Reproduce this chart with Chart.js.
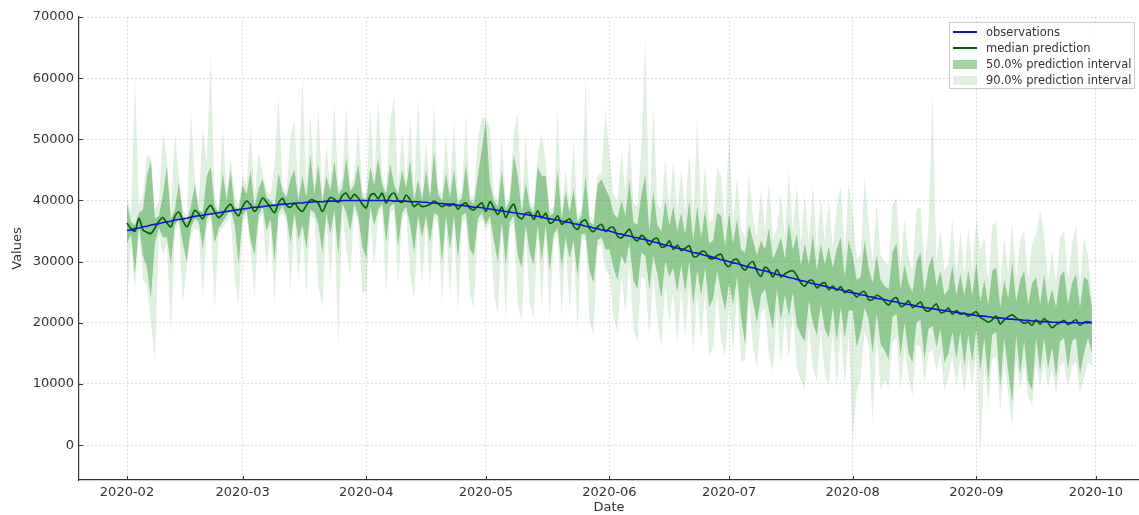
<!DOCTYPE html>
<html>
<head>
<meta charset="utf-8">
<script src="https://cdn.jsdelivr.net/npm/chart.js@4.4.1/dist/chart.umd.min.js"></script>
<style>
  body { margin: 0; background: #fff; }
  #wrap { position: relative; width: 1139px; height: 515px; }
  #legend {
    position: absolute; left: 949px; top: 22px; width: 186px; height: 67px;
    box-sizing: border-box; border: 1px solid #ccc; background: rgba(255,255,255,0.85);
    padding: 1px 3px; font: 11.5px "DejaVu Sans", sans-serif; color: #333;
  }
  .item { display: flex; align-items: center; height: 16px; white-space: nowrap; }
  .sw { width: 24px; margin-right: 9px; flex: none; }
</style>
</head>
<body>
<div id="wrap">
  <canvas id="chart" width="1139" height="515"></canvas>
  <div id="legend"></div>
</div>
<script>
// x = days since 2020-02-01 (daily points up to 2020-09-30)
const monthTickDays = [0, 29, 60, 90, 121, 151, 182, 213, 243];
const monthTickLabels = ["2020-02", "2020-03", "2020-04", "2020-05", "2020-06", "2020-07", "2020-08", "2020-09", "2020-10"];
const yTickValues = [0, 10000, 20000, 30000, 40000, 50000, 60000, 70000];

const seriesNames = ["observations", "median prediction", "50.0% prediction interval", "90.0% prediction interval"];

const observations = [
  35100,35200,35400,35500,35700,35800,36000,36100,36200,36400,
  36500,36600,36800,36900,37000,37100,37300,37400,37500,37600,
  37700,37800,37900,38000,38100,38200,38300,38400,38500,38600,
  38700,38800,38900,38900,39000,39100,39200,39200,39300,39400,
  39400,39500,39500,39600,39600,39700,39700,39800,39800,39800,
  39900,39900,39900,39900,40000,40000,40000,40000,40000,40000,
  40000,40000,40000,40000,40000,40000,40000,39900,39900,39900,
  39900,39800,39800,39800,39700,39700,39600,39600,39500,39500,
  39400,39400,39300,39200,39200,39100,39000,38900,38900,38800,
  38700,38600,38500,38400,38300,38200,38100,38000,37900,37800,
  37700,37600,37500,37400,37300,37100,37000,36900,36800,36600,
  36500,36400,36200,36100,36000,35800,35700,35500,35400,35200,
  35100,35000,34800,34600,34500,34300,34200,34000,33900,33700,
  33600,33400,33200,33100,32900,32700,32600,32400,32200,32100,
  31900,31700,31500,31400,31200,31000,30900,30700,30500,30300,
  30200,30000,29800,29700,29500,29300,29100,29000,28800,28600,
  28500,28300,28100,27900,27800,27600,27400,27300,27100,26900,
  26800,26600,26400,26300,26100,26000,25800,25700,25500,25400,
  25200,25000,24900,24800,24600,24500,24300,24200,24000,23900,
  23800,23600,23500,23400,23200,23100,23000,22900,22700,22600,
  22500,22400,22300,22200,22100,22000,21900,21800,21700,21600,
  21500,21400,21300,21200,21100,21100,21000,20900,20800,20800,
  20700,20600,20600,20500,20500,20400,20400,20300,20300,20200,
  20200,20200,20100,20100,20100,20100,20000,20000,20000,20000,
  20000,20000,20000
];

const medianPrediction = [
  36300,35400,35000,37100,35200,34800,34600,35500,36600,37200,
  36300,35700,37400,38100,36700,35700,36900,38400,37800,37000,
  38500,39200,38100,37200,37800,38800,39400,38200,37500,39000,
  39900,39300,38200,39100,40400,39700,38800,38000,39600,40300,
  39200,38900,39600,38700,38200,39200,40100,40000,39500,38200,
  39500,40500,40200,39700,40800,41200,40200,41000,40400,39400,
  38800,40800,41100,40300,41200,39600,40800,41200,40000,39700,
  40900,40100,39000,39500,39000,39100,39400,39900,39500,39000,
  39300,39100,39500,38600,39300,39600,38700,38500,39100,39600,
  38200,39800,38800,37700,38900,37200,38600,39400,37500,37000,
  37900,38000,36900,38300,37100,37900,36300,36600,37500,36100,
  36600,37000,35800,35300,36500,36800,35400,34900,35700,36100,
  34900,35500,35600,34200,33900,34600,35300,33900,33400,34300,
  33800,32700,33600,33800,32400,32500,33400,32000,32700,31800,
  32200,32600,30900,30900,31600,31600,30600,30500,31000,31200,
  29700,29200,30200,30400,29300,28600,29600,30000,28400,27600,
  29100,28600,27500,28700,27500,28000,28400,28500,27700,26500,
  26000,26900,26900,25700,26300,26600,25400,26000,25300,25900,
  24900,25400,25000,24200,24900,25100,23800,23800,24500,24200,
  23500,22900,23800,24100,22700,22900,23600,22500,22900,23400,
  22200,21900,22500,23100,21700,21800,22400,21400,22000,21400,
  21600,21100,21500,21800,20900,20500,20100,20500,21100,19800,
  20500,21000,21300,20800,20400,19900,20100,19600,20500,19800,
  20700,20000,19200,19700,20000,20400,19700,20100,20500,19600,
  20100,20200,20000
];

const upper50 = [
  39500,36500,36000,38000,38500,44000,46500,37000,37500,41000,
  45500,37000,38500,43000,37500,36500,39000,42500,38500,38000,
  44000,45500,39000,38000,44500,40000,45000,39000,38500,42500,
  41000,45000,39000,42000,43500,40500,40000,39000,44500,41500,
  40500,43500,45000,40000,44000,40500,47500,41000,46000,39500,
  44000,41500,46500,41000,42000,47000,41500,42500,46000,40500,
  40000,45500,42500,47000,42500,41000,46000,42500,41000,45000,
  42000,46500,40000,43500,40000,45000,40500,48000,41000,40000,
  44500,40500,45000,39500,40500,46000,40000,39500,44000,48500,
  53000,43000,40000,39000,45000,38500,40000,47500,44000,38000,
  43000,39000,38000,45500,44000,44000,37500,38000,45000,37000,
  41500,38000,42000,36500,37500,44000,36500,36000,42500,43500,
  42000,40500,38000,37000,40000,37500,43500,36500,36000,41000,
  44000,35000,41500,36000,35000,40000,36000,39000,35000,38000,
  34500,40000,33500,39000,34000,38500,33000,33500,38000,37500,
  32500,38000,33000,37000,32000,31500,36000,33500,31000,33500,
  32000,35500,30500,32000,34000,30500,36500,32000,34500,29500,
  33000,29500,34500,28500,33000,29500,32500,29000,32000,34000,
  27500,33500,31000,27000,27500,33500,29000,26500,31000,27000,
  26000,25500,31500,33000,25500,29500,26500,25000,30000,31500,
  25000,29000,31000,26000,28500,24500,25500,29500,24500,28000,
  24500,28500,24500,30000,23500,27000,23000,28500,29000,22500,
  27000,24000,30000,23500,27000,28500,23000,26500,27500,23000,
  28000,23000,25500,22500,27500,28500,23000,26500,28000,22500,
  27500,27000,22500
];

const lower50 = [
  33000,34500,28000,36000,31000,29000,24000,33000,35500,34000,
  34000,29500,36000,37000,33000,30000,35500,37000,36500,32000,
  37000,38000,33000,35500,36500,37500,38500,36000,29500,37500,
  38500,33500,31000,37500,39000,35000,37000,30000,38000,39000,
  37500,33000,38000,33500,36000,32000,38500,38000,36000,31500,
  38000,34500,38500,31000,39500,38000,35000,39500,37500,32500,
  30500,39000,36000,38500,39500,33000,39000,39500,32500,38000,
  39000,36000,31500,37500,34000,37500,33000,38000,37500,30000,
  37500,32000,37500,30500,37500,38000,32000,31000,37000,38000,
  36000,37500,33500,30000,36500,29500,36500,37500,31000,29000,
  36000,31500,29500,36000,30000,36000,28500,34500,35500,29000,
  34000,30500,33500,27500,34500,34500,28500,26500,33500,34000,
  32000,32000,29000,27000,31000,29500,33000,27000,25500,31500,
  31000,25500,31000,28000,24000,30000,27500,29000,25000,29500,
  25000,30000,23000,28500,24500,29000,22500,24000,28500,25000,
  22000,26500,23000,27500,21000,16500,26500,23500,20000,24500,
  25500,22000,19000,25500,20500,24500,21000,25000,19500,18000,
  17000,23500,20000,18000,23000,19000,17500,22500,17000,22500,
  17500,22000,22000,16000,18500,22500,20500,15000,21500,16500,
  15500,14000,21000,21500,14500,20000,15000,13500,20000,20500,
  14000,19000,19500,16000,19000,13500,15000,18500,14000,18500,
  13000,18000,13500,19000,12000,17500,10500,18000,18500,9500,
  17500,12000,7000,18000,11500,17000,10500,9000,17500,12000,
  17500,12500,16000,11000,17000,17500,12500,17000,17500,11500,
  15000,17500,15000
];

const upper90 = [
  40500,38000,60000,39000,41000,47500,47000,38500,40000,51000,
  47000,38000,51000,44000,38500,37500,55000,43500,39500,52000,
  46000,64000,40000,39000,52000,41000,47000,40500,39500,44000,
  42500,52000,40500,48000,44500,41500,41000,46000,57000,42500,
  41500,50500,53000,41000,60500,42000,54000,42500,55000,40500,
  49000,42500,56000,42000,43500,55500,42500,44000,52500,41500,
  41000,55000,43500,56500,43500,42000,53000,57000,42000,51500,
  43000,53500,41000,57000,41000,50000,41500,56000,42000,41000,
  51000,41500,53000,40500,41500,54000,41000,40500,50000,53500,
  53500,52000,41000,40000,50500,39500,41000,51000,54500,39000,
  50500,40000,39000,47500,51000,46000,38500,39000,55000,38000,
  45000,39000,50000,37500,38500,60000,37500,37000,44000,44500,
  55000,47500,41000,40000,48000,41000,51000,39500,39000,49000,
  66500,38000,55000,39500,38500,47000,39000,46500,38000,45000,
  38000,48000,37000,53500,37500,46000,36500,37000,45500,44000,
  36000,51500,36000,44000,35500,34000,44500,37000,34000,42000,
  35000,43000,33500,35500,41000,34000,45000,35000,42500,33000,
  41000,33000,42500,32000,40500,33500,40000,32500,39000,42500,
  31500,43000,38000,30500,31000,44000,36500,30000,39500,31000,
  30000,29500,39500,40500,29000,37000,31000,28500,38500,39000,
  29000,36000,57500,30000,35500,28500,29500,37000,28000,35000,
  28000,35500,28500,37000,32000,34000,27000,36000,36500,26000,
  34000,28000,36500,27500,33500,35000,27000,33000,34500,38500,
  34500,27000,32000,26500,34000,35000,27000,33000,36000,26000,
  34000,31000,24500
];

const lower90 = [
  21500,33500,25000,35000,27000,26000,20000,13500,34500,31000,
  33000,18000,35000,36000,23000,29000,34500,35500,35000,24000,
  36000,37000,22000,34500,35500,36500,37500,27000,23000,36500,
  37500,32000,24000,36500,38000,28500,36000,23000,37000,38000,
  36500,25000,37000,27000,35000,24500,37500,37000,26000,22500,
  37000,27000,37500,16000,38500,32000,27500,38500,36500,25000,
  25000,38000,29000,37500,38500,24500,38000,38500,26000,37000,
  38000,28000,24000,36500,26000,36500,25500,37000,36500,23000,
  36500,24000,36500,21500,36500,37000,24500,22500,36000,37000,
  35000,36500,25000,21500,35500,20500,35500,36500,23000,20000,
  35000,23000,21000,35000,22500,35000,20500,33500,34500,21000,
  33000,22000,32500,18500,33500,33500,20000,18000,32500,33000,
  28500,28000,21000,18500,27500,21500,29500,19000,17000,27500,
  27000,17500,27500,20500,16000,26000,20000,25000,16500,25500,
  17500,26000,15000,24500,17000,25000,14500,16000,24500,17000,
  14500,23000,15500,24500,13500,14000,23500,16000,12500,21500,
  22500,14500,12000,22000,13000,21000,14000,21500,12500,10500,
  9000,19500,12500,10500,19000,11500,10000,18500,9500,19000,
  10000,18000,1000,8500,11000,18500,16500,3500,17500,9000,
  10500,9500,17000,17500,9000,16000,11000,8000,16500,16000,
  10000,15000,15500,12000,15000,9000,11000,14500,9500,14000,
  8500,14000,9500,15000,-2000,13500,6500,14000,14500,5500,
  13500,8500,3000,14000,9000,13000,8000,6500,13500,9500,
  13500,9500,12500,8500,13000,13500,9500,13000,13500,8500,
  11000,13500,13000
];

const colObs = "#1010e0";
const colMedian = "#006400";
const col50 = "rgba(0,128,0,0.35)";
const col90 = "rgba(0,128,0,0.12)";

const toPoints = arr => arr.map((v, i) => ({ x: i, y: v }));

Chart.defaults.font.family = "'DejaVu Sans', sans-serif";
Chart.defaults.font.size = 13;
Chart.defaults.color = "#333";

// ticks pointing inward, like the matplotlib original
const inwardTicks = {
  id: "inwardTicks",
  afterDraw(chart) {
    const { ctx, chartArea: a, scales: { x, y } } = chart;
    ctx.save();
    ctx.strokeStyle = "#333";
    ctx.lineWidth = 1;
    x.ticks.forEach(t => {
      const px = Math.round(x.getPixelForValue(t.value)) + 0.5;
      ctx.beginPath(); ctx.moveTo(px, a.bottom); ctx.lineTo(px, a.bottom - 4); ctx.stroke();
    });
    y.ticks.forEach(t => {
      const py = Math.round(y.getPixelForValue(t.value)) + 0.5;
      ctx.beginPath(); ctx.moveTo(a.left, py); ctx.lineTo(a.left + 4, py); ctx.stroke();
    });
    ctx.restore();
  }
};

const chart = new Chart(document.getElementById("chart"), {
  type: "line",
  data: {
    datasets: [
      { label: seriesNames[0], data: toPoints(observations), borderColor: colObs, borderWidth: 1.6, pointRadius: 0, fill: false },
      { label: seriesNames[1], data: toPoints(medianPrediction), borderColor: colMedian, borderWidth: 1.7, pointRadius: 0, tension: 0.3, fill: false },
      { label: seriesNames[2], data: toPoints(upper50), borderWidth: 0, borderColor: col50, backgroundColor: col50, pointRadius: 0, fill: "+1" },
      { label: "lower50", data: toPoints(lower50), borderWidth: 0, pointRadius: 0, fill: false },
      { label: seriesNames[3], data: toPoints(upper90), borderWidth: 0, borderColor: col90, backgroundColor: col90, pointRadius: 0, fill: "+1" },
      { label: "lower90", data: toPoints(lower90), borderWidth: 0, pointRadius: 0, fill: false }
    ]
  },
  options: {
    responsive: false,
    animation: false,
    layout: { padding: { top: 17, right: 0, bottom: 0, left: 0 } },
    plugins: { legend: { display: false }, tooltip: { enabled: false } },
    scales: {
      x: {
        type: "linear",
        min: -12.04,
        max: 253.8,
        afterBuildTicks: scale => { scale.ticks = monthTickDays.map(v => ({ value: v })); },
        afterFit: scale => { scale.height = 35; },
        ticks: {
          autoSkip: false, maxRotation: 0, padding: 5,
          callback: v => monthTickLabels[monthTickDays.indexOf(v)]
        },
        grid: { color: "rgba(0,0,0,0.22)", lineWidth: 0.8, drawTicks: false },
        border: { display: true, color: "#333", width: 1.2, dash: [1.5, 2.5] },
        title: { display: true, text: "Date", padding: { top: 0, bottom: 0 }, font: { size: 13 } }
      },
      y: {
        min: -5700,
        max: 70000,
        afterBuildTicks: scale => { scale.ticks = yTickValues.map(v => ({ value: v })); },
        afterFit: scale => { scale.width = 79; },
        ticks: { padding: 5, callback: v => String(v) },
        grid: { color: "rgba(0,0,0,0.22)", lineWidth: 0.8, drawTicks: false },
        border: { display: true, color: "#333", width: 1.2, dash: [1.5, 2.5] },
        title: { display: true, text: "Values", padding: { top: 10, bottom: 0 }, font: { size: 13 } }
      }
    }
  },
  plugins: [inwardTicks]
});

// legend drawn inside the plot, upper right
const legendEl = document.getElementById("legend");
const swatches = [
  { color: colObs, h: 2 },
  { color: colMedian, h: 2 },
  { color: col50, h: 9 },
  { color: col90, h: 9 }
];
seriesNames.forEach((name, i) => {
  const row = document.createElement("div");
  row.className = "item";
  const sw = document.createElement("span");
  sw.className = "sw";
  sw.style.height = swatches[i].h + "px";
  sw.style.background = swatches[i].color;
  const txt = document.createElement("span");
  txt.textContent = name;
  row.appendChild(sw);
  row.appendChild(txt);
  legendEl.appendChild(row);
});
</script>
</body>
</html>
